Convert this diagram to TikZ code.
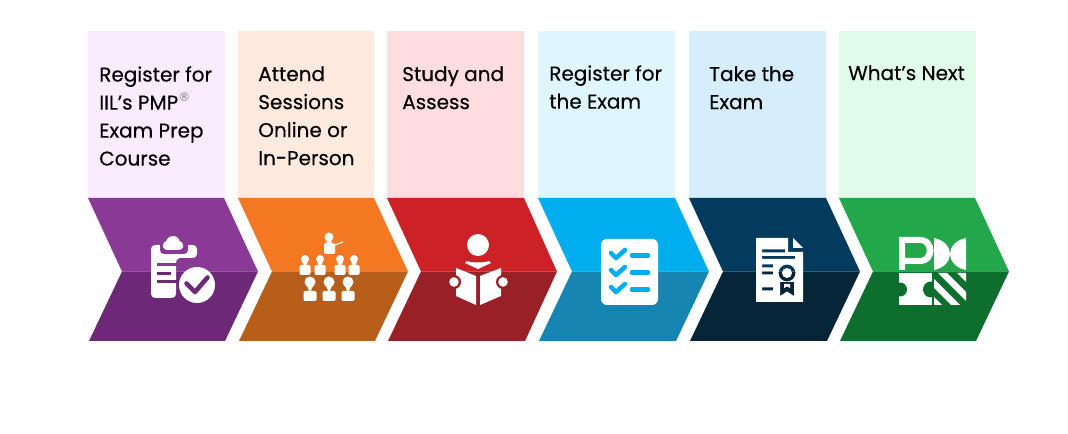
\documentclass[tikz,border=0pt]{standalone}
\usepackage{fontspec}
\setmainfont{Poppins}[FakeBold=0.3]
\newfontfamily\regfont{DejaVu Sans}
\usepackage{xcolor}
\definecolor{palePurple}{HTML}{FAEBFF}
\definecolor{paleOrange}{HTML}{FDE9DD}
\definecolor{paleRed}{HTML}{FFDDE0}
\definecolor{paleCyan}{HTML}{E0F6FF}
\definecolor{paleBlue}{HTML}{D6EDFC}
\definecolor{paleGreen}{HTML}{E1FBEB}
\definecolor{purpleTop}{HTML}{8A3A96}
\definecolor{purpleLow}{HTML}{6E2878}
\definecolor{orangeTop}{HTML}{F47721}
\definecolor{orangeLow}{HTML}{B85E1B}
\definecolor{redTop}{HTML}{CC2127}
\definecolor{redLow}{HTML}{982026}
\definecolor{cyanTop}{HTML}{00AEEF}
\definecolor{cyanLow}{HTML}{1785B1}
\definecolor{navyTop}{HTML}{033A5E}
\definecolor{navyLow}{HTML}{072538}
\definecolor{greenTop}{HTML}{22A84A}
\definecolor{greenLow}{HTML}{0E6E2E}
\tikzset{
    steptext/.style={anchor=north west,inner sep=0.75pt,align=left,text=black,font=\fontsize{15}{21}\selectfont},
    iconfill/.style={fill=white,draw=none},
    iconline/.style={line width=3.4pt,line cap=round},
}
\begin{document}
\begin{tikzpicture}[x=0.75pt,y=0.75pt,yscale=-1]
        \useasboundingbox (0,0) rectangle (1068,434);

        % Pale Boxes
        \fill [palePurple] (88,31) rectangle (225,198);
        \fill [paleOrange] (238,31) rectangle (374,198);
        \fill [paleRed] (387,31) rectangle (524,198);
        \fill [paleCyan] (538,31) rectangle (675,198);
        \fill [paleBlue] (689,31) rectangle (826,198);
        \fill [paleGreen] (839,31) rectangle (976,198);

        % Chevrons, upper and lower halves
        \fill [purpleTop] (88,198) -- (224,198) -- (258,271.5) -- (122,271.5) -- cycle;
        \fill [purpleLow] (122,271.5) -- (258,271.5) -- (225,341) -- (89,341) -- cycle;
        \fill [orangeTop] (238,198) -- (374,198) -- (408,271.5) -- (272,271.5) -- cycle;
        \fill [orangeLow] (272,271.5) -- (408,271.5) -- (375,341) -- (239,341) -- cycle;
        \fill [redTop] (387,198) -- (524,198) -- (557,271.5) -- (421,271.5) -- cycle;
        \fill [redLow] (421,271.5) -- (557,271.5) -- (525,341) -- (388,341) -- cycle;
        \fill [cyanTop] (538,198) -- (675,198) -- (709,271.5) -- (572,271.5) -- cycle;
        \fill [cyanLow] (572,271.5) -- (709,271.5) -- (676,341) -- (539,341) -- cycle;
        \fill [navyTop] (689,198) -- (826,198) -- (860,271.5) -- (723,271.5) -- cycle;
        \fill [navyLow] (723,271.5) -- (860,271.5) -- (827,341) -- (690,341) -- cycle;
        \fill [greenTop] (839,198) -- (975,198) -- (1009,271.5) -- (873,271.5) -- cycle;
        \fill [greenLow] (873,271.5) -- (1009,271.5) -- (976,341) -- (840,341) -- cycle;

        % Clipboard Icon
        \fill [iconfill,rounded corners=3pt] (151,245) -- (197,245) -- (197,258) -- (176,258) -- (176,298) -- (151,298) -- cycle;
        \fill [purpleTop,rounded corners=3pt] (160,240) rectangle (188,254);
        \fill [iconfill,rounded corners=3pt] (163,244) rectangle (183,250);
        \fill [iconfill] (173,243) circle (7) (167,245) circle (4) (179,245) circle (4);
        \fill [purpleTop] (157,263.5) rectangle (177,266.5);
        \fill [purpleLow] (157,272) rectangle (171,275);
        \fill [purpleLow] (157,280.5) rectangle (177,283.5);
        \fill [iconfill] (197,285) circle (18);
        \draw [purpleLow,iconline,line join=round] (186.5,283.5) -- (195,292) -- (207.5,277.5);

        % Classroom Icon
        \fill [iconfill] (329,237) circle (4.5);
        \fill [iconfill,rounded corners=1pt] (324,243) rectangle (335,254);
        \fill [iconfill] (326,241) -- (332,241) -- (329,245) -- cycle;
        \draw [white,line width=0.9pt] (335,245) -- (343,242);
        \fill [iconfill] (305,259) circle (4) (320,259) circle (4) (340,259) circle (4) (354,259) circle (4);
        \fill [iconfill] (302,262) -- (308,262) -- (305,267) -- cycle (317,262) -- (323,262) -- (320,267) -- cycle (337,262) -- (343,262) -- (340,267) -- cycle (351,262) -- (357,262) -- (354,267) -- cycle;
        \fill [iconfill,rounded corners=1pt] (299.5,265) rectangle (310.5,275) (314.5,265) rectangle (325.5,275) (334.5,265) rectangle (345.5,275) (348.5,265) rectangle (359.5,275);
        \fill [iconfill] (310,282) circle (5.5) (329,282) circle (5.5) (348,282) circle (5.5);
        \fill [iconfill] (307,286) -- (313,286) -- (310,293) -- cycle (326,286) -- (332,286) -- (329,293) -- cycle (345,286) -- (351,286) -- (348,293) -- cycle;
        \fill [iconfill,rounded corners=1pt] (303.5,291) rectangle (316.5,301) (322.5,291) rectangle (335.5,301) (341.5,291) rectangle (354.5,301);

        % Reader Icon
        \fill [iconfill] (478,245) circle (11);
        \fill [iconfill] (467,261) .. controls (472,263) and (484,263) .. (489,261) -- (491,263) -- (478,269) -- (465,263) -- cycle;
        \fill [iconfill] (456,268) -- (476,276) -- (476,305) -- (456,296) -- cycle;
        \fill [iconfill] (480,276) -- (501,268) -- (501,296) -- (480,305) -- cycle;
        \fill [redLow] (454,282) circle (7) (503,282) circle (7);
        \fill [iconfill] (454,282) circle (4.8) (503,282) circle (4.8);

        % Checklist Icon
        \fill [iconfill,rounded corners=4.5pt] (601,239) rectangle (658,305);
        \draw [cyanTop,iconline,line join=round] (611,253) -- (616,258) -- (625,250);
        \draw [cyanTop,iconline,line join=round] (611,270) -- (616,275) -- (625,267);
        \draw [cyanTop,iconline,line join=round] (611,287) -- (616,292) -- (625,284);
        \draw [cyanTop,iconline] (632,255.5) -- (648,255.5);
        \draw [cyanTop,iconline] (632,272.5) -- (648,272.5);
        \draw [cyanTop,iconline] (632,289.5) -- (648,289.5);

        % Certificate Icon
        \fill [iconfill,even odd rule] (756,238) -- (788,238) -- (788,252) -- (803,252) -- (803,302) -- (756,302) -- cycle
            (762,249.5) rectangle (785,252.5)
            (762,256) rectangle (795,259)
            (762,264.5) rectangle (773,267.5)
            (762,271.5) rectangle (773,274.5)
            (762,287.5) rectangle (773,290.5)
            (787,273) circle (8.5) (787,273) circle (5)
            (780,282) -- (794,282) -- (794,296) -- (787,291.5) -- (780,296) -- cycle
            (784,284) -- (790,284) -- (790,288) -- (787,286.5) -- (784,288) -- cycle;
        \fill [iconfill] (793,238) -- (803,248) -- (793,248) -- cycle;

        % PMI Icon
        \fill [iconfill,even odd rule] (899,237) -- (920,237) .. controls (938,237) and (938,264) .. (920,264) -- (905,264) -- (905,270) -- (899,270) -- cycle
            (905,243) -- (920,243) .. controls (929,243) and (929,258) .. (920,258) -- (905,258) -- cycle;
        \fill [iconfill] (934,238) .. controls (945,240) and (950,248) .. (950,254) .. controls (950,260) and (945,268) .. (934,270) -- cycle;
        \fill [iconfill] (966,238) .. controls (955,240) and (950,248) .. (950,254) .. controls (950,260) and (955,268) .. (966,270) -- cycle;
        \fill [iconfill] (899,273) -- (932,273) -- (932,305) -- (899,305) -- cycle;
        \fill [greenLow] (900,289.5) circle (7) (931,289.5) circle (8);
        \begin{scope}
            \clip (934,273) rectangle (966,305);
            \fill [iconfill] (938,273) -- (947,273) -- (979,305) -- (970,305) -- cycle;
            \fill [iconfill] (957,273) -- (966,273) -- (966,282) -- cycle;
            \fill [iconfill] (934,279) -- (934,288) -- (951,305) -- (960,305) -- cycle;
            \fill [iconfill] (934,297) -- (934,305) -- (942,305) -- cycle;
        \end{scope}

        % Text Node
        \node (txtRegister) [steptext] at (98,65) {Register for\\IIL’s PMP\raisebox{6.2pt}{\regfont\fontsize{9}{9}\selectfont\color{gray}®}\\Exam Prep\\Course};
        % Text Node
        \node (txtSessions) [steptext] at (257,65) {Attend\\Sessions\\Online or\\In-Person};
        % Text Node
        \node (txtStudy) [steptext] at (401,65) {Study and\\Assess};
        % Text Node
        \node (txtExamReg) [steptext] at (548,64) {Register for\\the Exam};
        % Text Node
        \node (txtTake) [steptext] at (708,65) {Take the\\Exam};
        % Text Node
        \node (txtNext) [steptext] at (847,64) {What{\char39}s Next};
    \end{tikzpicture}
\end{document}
